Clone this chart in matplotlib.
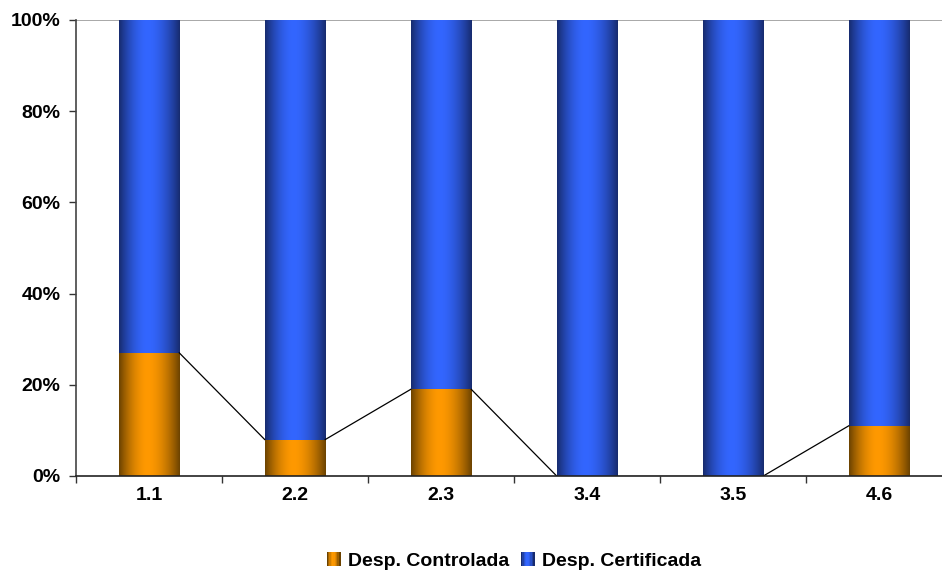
import numpy as np
import matplotlib
matplotlib.use("Agg")
import matplotlib.pyplot as plt
from matplotlib.patches import Rectangle
from matplotlib.legend_handler import HandlerBase
from matplotlib.ticker import PercentFormatter

categories = ["1.1", "2.2", "2.3", "3.4", "3.5", "4.6"]
controlada = [27, 8, 19, 0, 0, 11]
certificada = [73, 92, 81, 100, 100, 89]
series_names = ["Desp. Controlada", "Desp. Certificada"]

plt.rcParams['font.family'] = ['Liberation Sans', 'DejaVu Sans']
plt.rcParams['font.weight'] = 'bold'

ORANGE_DARK = np.array([0.42, 0.26, 0.0])
ORANGE_BRIGHT = np.array([1.0, 0.60, 0.0])
BLUE_DARK = np.array([0.09, 0.17, 0.43])
BLUE_BRIGHT = np.array([0.20, 0.40, 1.0])


def profile(n=200, peak=0.47):
    t = np.linspace(0, 1, n)
    d = np.where(t < peak, (peak - t) / peak, (t - peak) / (1 - peak))
    f = 1 - d ** 1.8
    return f


def gradient_img(dark, bright, n=200):
    f = profile(n)[:, None]
    row = dark[None, :] + (bright - dark)[None, :] * f
    return row[None, :, :]


fig = plt.figure(figsize=(9.42, 5.72), dpi=100)
ax = fig.add_axes([76 / 942, 96 / 572, 876 / 942, 456 / 572])

x = np.arange(len(categories))
w = 0.415
tot = np.array(controlada) + np.array(certificada)
ctrl = np.array(controlada) / tot * 100
cert = np.array(certificada) / tot * 100

org = gradient_img(ORANGE_DARK, ORANGE_BRIGHT)
blu = gradient_img(BLUE_DARK, BLUE_BRIGHT)

for xi, c, ce in zip(x, ctrl, cert):
    if c > 0:
        ax.imshow(org, extent=[xi - w / 2, xi + w / 2, 0, c], aspect='auto',
                  interpolation='bilinear', zorder=2)
    if ce > 0:
        ax.imshow(blu, extent=[xi - w / 2, xi + w / 2, c, c + ce], aspect='auto',
                  interpolation='bilinear', zorder=2)

# series lines
for i in range(len(x) - 1):
    ax.plot([x[i] + w / 2, x[i + 1] - w / 2], [ctrl[i], ctrl[i + 1]],
            color='black', lw=0.9, zorder=3)

ax.set_xlim(-0.5, len(x) - 0.5)
ax.set_ylim(0, 100)
ax.axhline(100, color='#999999', lw=1.2, zorder=1)

ax.yaxis.set_major_formatter(PercentFormatter(decimals=0))
ax.set_yticks(np.arange(0, 101, 20))
ax.tick_params(axis='y', length=5, width=1, color='#333333', labelsize=14, pad=6)
ax.set_xticks(x)
ax.set_xticklabels(categories)
ax.set_xticks(np.arange(-0.5, len(x), 1), minor=True)
ax.tick_params(axis='x', which='major', length=0, labelsize=14, pad=8)
ax.tick_params(axis='x', which='minor', length=5, width=1, color='#333333')

for s in ['top', 'right']:
    ax.spines[s].set_visible(False)
ax.spines['left'].set_color('#444444')
ax.spines['left'].set_linewidth(1.2)
ax.spines['bottom'].set_color('#222222')
ax.spines['bottom'].set_linewidth(1.2)
ax.spines['bottom'].set_zorder(4)


class GradHandler(HandlerBase):
    def __init__(self, dark, bright):
        super().__init__()
        self.dark = dark
        self.bright = bright

    def create_artists(self, legend, orig_handle, xdescent, ydescent, width, height, fontsize, trans):
        arts = []
        n = 10
        f = profile(n)
        s = height
        x0 = -xdescent + (width - s)
        for k in range(n):
            col = self.dark + (self.bright - self.dark) * f[k]
            r = Rectangle((x0 + k * s / n, -ydescent), s / n + 0.3, s,
                          facecolor=col, edgecolor='none', transform=trans)
            arts.append(r)
        return arts


h1 = Rectangle((0, 0), 1, 1)
h2 = Rectangle((0, 0), 1, 1)
leg = fig.legend([h1, h2], series_names, loc='center', bbox_to_anchor=(514 / 942, 11 / 572),
                 ncol=2, frameon=False, fontsize=14, handlelength=0.7, handleheight=0.7,
                 handletextpad=0.4, columnspacing=0.6,
                 handler_map={h1: GradHandler(ORANGE_DARK, ORANGE_BRIGHT),
                              h2: GradHandler(BLUE_DARK, BLUE_BRIGHT)})

fig.savefig("out.png", dpi=100)
